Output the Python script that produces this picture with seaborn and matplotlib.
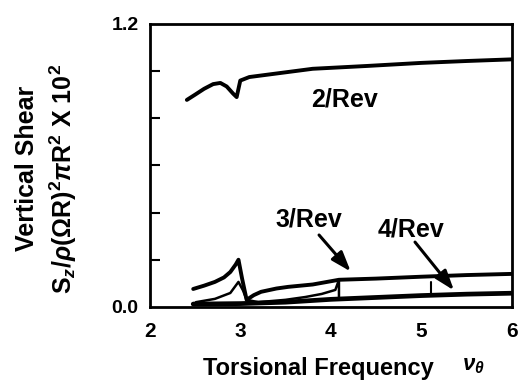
import matplotlib
matplotlib.use("Agg")
import matplotlib.pyplot as plt
import seaborn as sns
import pandas as pd

sns.set_theme(style="white")
plt.rcParams['font.family'] = ['Liberation Sans', 'DejaVu Sans']
plt.rcParams['font.weight'] = 'bold'
plt.rcParams['text.color'] = 'black'
plt.rcParams['xtick.color'] = 'black'
plt.rcParams['ytick.color'] = 'black'
plt.rcParams['xtick.labelcolor'] = 'black'
plt.rcParams['ytick.labelcolor'] = 'black'
plt.rcParams['mathtext.fontset'] = 'custom'
plt.rcParams['mathtext.rm'] = 'Liberation Sans:bold'
plt.rcParams['mathtext.it'] = 'Liberation Sans:bold:italic'
plt.rcParams['mathtext.bf'] = 'Liberation Sans:bold'

# 2/Rev harmonic
x_2rev = [2.41, 2.5, 2.6, 2.7, 2.78, 2.85, 2.92, 2.96, 3.0, 3.1, 3.4, 3.8, 4.4, 5.0, 5.5, 6.0]
y_2rev = [0.878, 0.90, 0.925, 0.945, 0.95, 0.935, 0.905, 0.89, 0.96, 0.975, 0.99, 1.01, 1.022, 1.035, 1.043, 1.05]

# 3/Rev harmonic
x_3rev = [2.48, 2.6, 2.72, 2.82, 2.89, 2.95, 2.98, 3.02, 3.07, 3.15, 3.23, 3.4, 3.53, 3.8, 4.09, 4.5, 5.0, 5.5, 6.0]
y_3rev = [0.076, 0.09, 0.106, 0.125, 0.148, 0.18, 0.2, 0.12, 0.03, 0.05, 0.064, 0.078, 0.085, 0.095, 0.115, 0.12, 0.128, 0.135, 0.14]

# 4/Rev harmonic
x_4rev = [2.51, 2.72, 2.89, 2.98, 3.03, 3.07, 3.2, 3.5, 3.72, 3.9, 4.05, 4.09, 4.09]
y_4rev = [0.02, 0.034, 0.059, 0.106, 0.07, 0.03, 0.02, 0.03, 0.042, 0.055, 0.072, 0.115, 0.035]

# baseline (higher harmonics)
x_base = [2.48, 3.0, 3.5, 4.0, 4.5, 5.0, 5.5, 6.0]
y_base = [0.012, 0.014, 0.02, 0.032, 0.04, 0.048, 0.054, 0.058]

# short step at 5/Rev crossing
x_step = [5.11, 5.11]
y_step = [0.06, 0.106]

labels = ["2/Rev", "3/Rev", "4/Rev"]
x_ticks = [2, 3, 4, 5, 6]

fig = plt.figure(figsize=(5.31, 3.87), dpi=100)
ax = fig.add_axes([0.282, 0.207, 0.682, 0.731])

for xs, ys, lw in [(x_2rev, y_2rev, 2.8), (x_3rev, y_3rev, 2.8), (x_4rev, y_4rev, 1.8),
                   (x_base, y_base, 3.4), (x_step, y_step, 1.5)]:
    df = pd.DataFrame({"x": xs, "y": ys})
    sns.lineplot(data=df, x="x", y="y", ax=ax, color="black", lw=lw,
                 estimator=None, sort=False)

ax.set_xlim(2, 6)
ax.set_ylim(0, 1.2)
ax.set_xticks(x_ticks)
ax.set_xticklabels([str(t) for t in x_ticks], fontsize=15, fontweight='bold')
ax.set_yticks([0.0, 1.2])
ax.set_yticklabels(["0.0", "1.2"], fontsize=14, fontweight='bold')
ax.set_yticks([0.2, 0.4, 0.6, 0.8, 1.0], minor=True)
ax.tick_params(axis='x', length=0, pad=11)
ax.tick_params(axis='y', which='major', length=0, pad=8)
ax.tick_params(axis='y', which='minor', direction='in', length=7, width=1.5, left=True)
for s in ax.spines.values():
    s.set_linewidth(2.0)
    s.set_color("black")
ax.set_xlabel("")
ax.set_ylabel("")

ax.text(4.15, 0.88, labels[0], fontsize=18, fontweight='bold', ha='center', va='center')
ax.text(3.76, 0.37, labels[1], fontsize=18, fontweight='bold', ha='center', va='center')
ax.text(4.89, 0.33, labels[2], fontsize=18, fontweight='bold', ha='center', va='center')
arrow = dict(arrowstyle='-|>,head_length=1.0,head_width=0.35', color='black', lw=2.2,
             shrinkA=0, shrinkB=0)
ax.annotate("", xy=(4.22, 0.15), xytext=(3.87, 0.305), arrowprops=arrow)
ax.annotate("", xy=(5.36, 0.07), xytext=(4.93, 0.275), arrowprops=arrow)

fig.text(318/531, 1 - 369/387, "Torsional Frequency", fontsize=17, fontweight='bold', ha='center', va='center')
fig.text(473/531, 1 - 366/387, r"$\nu_\theta$", fontsize=16, ha='center', va='center')
fig.text(27/531, 1 - 168/387, "Vertical Shear", fontsize=18, fontweight='bold', rotation=90, ha='center', va='center')
fig.text(63/531, 1 - 179/387, r"S$_z$/$\rho$($\Omega$R)$^2\pi$R$^2$ X 10$^2$", fontsize=18,
         fontweight='bold', rotation=90, ha='center', va='center')

fig.savefig("out.png", dpi=100)
